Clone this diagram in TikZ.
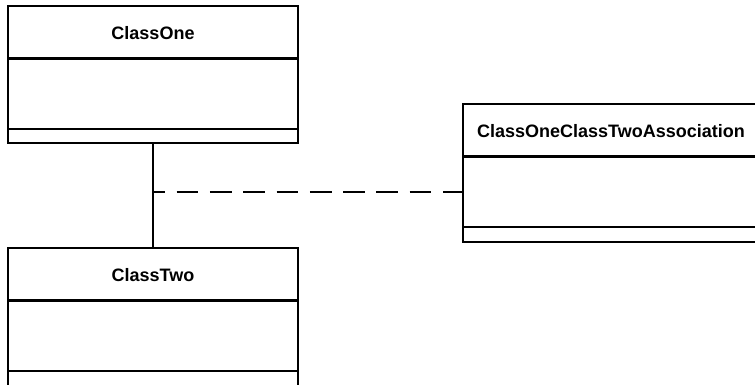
\documentclass[tikz,border=0pt]{standalone}
\usepackage{fontspec}
\setmainfont{Liberation Sans}
\begin{document}
\begin{tikzpicture}[x=1pt,y=-1pt,line width=2.7pt,
  classbox/.style={draw, rectangle, minimum width=290pt, minimum height=137pt, inner sep=0pt, outer sep=0pt, anchor=north west},
  assocbox/.style={classbox, minimum width=296pt, minimum height=138pt},
  title/.style={font=\bfseries\fontsize{18}{20}\selectfont, inner sep=0pt},
  assocline/.style={dash pattern=on 21.7pt off 11.6pt, dash phase=9.7pt}]
\useasboundingbox (0,0) rectangle (755,385);
\clip (0,0) rectangle (755,385);
% ClassOne
\node[classbox] (c1) at (8,6) {};
\draw ([yshift=-52.5pt]c1.north west) -- ([yshift=-52.5pt]c1.north east);
\draw ([yshift=-123pt]c1.north west) -- ([yshift=-123pt]c1.north east);
\node[title] (t1) at ([yshift=-27pt]c1.north) {ClassOne};
% ClassTwo
\node[classbox, minimum height=140pt] (c2) at (8,248) {};
\draw ([yshift=-52.5pt]c2.north west) -- ([yshift=-52.5pt]c2.north east);
\draw ([yshift=-123pt]c2.north west) -- ([yshift=-123pt]c2.north east);
\node[title] (t2) at ([yshift=-27pt]c2.north) {ClassTwo};
% Association class
\node[assocbox] (a) at (463,104) {};
\draw ([yshift=-52.5pt]a.north west) -- ([yshift=-52.5pt]a.north east);
\draw ([yshift=-123pt]a.north west) -- ([yshift=-123pt]a.north east);
\node[title] (t3) at ([yshift=-27pt]a.north) {ClassOneClassTwoAssociation};
% connectors
\draw (c1.south) -- coordinate[pos=0.467] (m) (c2.north);
\draw[assocline] (m) -- (m -| a.west);
\end{tikzpicture}
\end{document}
